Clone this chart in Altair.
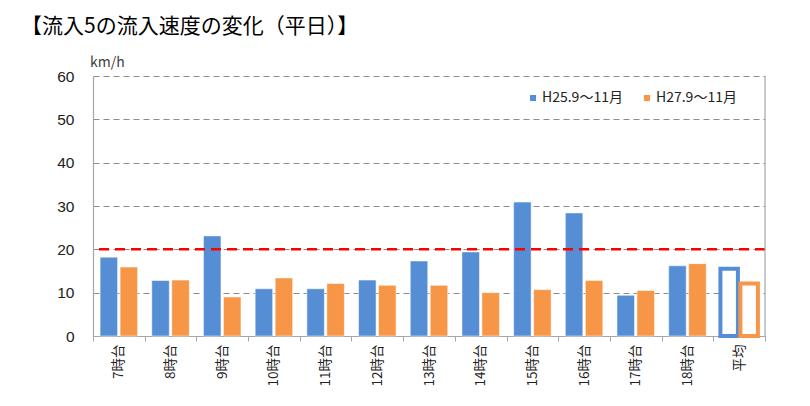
import altair as alt
import pandas as pd

hours = ["7時台", "8時台", "9時台", "10時台", "11時台", "12時台", "13時台",
         "14時台", "15時台", "16時台", "17時台", "18時台", "平均"]
series = ["H25.9～11月", "H27.9～11月"]
h25 = [18.2, 12.8, 23.1, 10.9, 10.9, 12.9, 17.3, 19.4, 30.9, 28.4, 9.4, 16.2, 15.5]
h27 = [15.9, 12.9, 9.0, 13.4, 12.1, 11.7, 11.7, 10.0, 10.7, 12.8, 10.5, 16.7, 12.1]
y_ticks = [0, 10, 20, 30, 40, 50, 60]
target = [20]
colors = ["#558ED5", "#F79646"]
title_text = "【流入5の流入速度の変化（平日）】"
unit_text = "km/h"

rows = []
for i, h in enumerate(hours):
    rows.append({"hour": h, "series": series[0], "value": h25[i]})
    rows.append({"hour": h, "series": series[1], "value": h27[i]})
df = pd.DataFrame(rows)

W, H = 672, 260
font = "Noto Sans CJK JP"

x_enc = alt.X("hour:N", sort=hours,
              scale=alt.Scale(domain=hours, paddingInner=0, paddingOuter=0),
              axis=alt.Axis(title=None, labelAngle=-90, tickBand="extent",
                            tickSize=5, tickColor="#a6a6a6", domainColor="#a6a6a6",
                            domainWidth=1.2, labelPadding=3, labelFontSize=13.5,
                            labelFont=font, labelColor="#222222", grid=False))
xo_enc = alt.XOffset("series:N", sort=series,
                     scale=alt.Scale(domain=series, paddingInner=0.125, paddingOuter=0.355))
y_enc = alt.Y("value:Q", scale=alt.Scale(domain=[0, 60], nice=False),
              axis=alt.Axis(title=None, values=y_ticks, grid=True, gridDash=[6, 4],
                            gridColor="#8c8c8c", gridWidth=1.2, tickSize=0,
                            domainColor="#a6a6a6", domainWidth=1.2, labelPadding=19,
                            labelFontSize=15.5, labelFont="Liberation Sans",
                            labelColor="#222222"))

base = alt.Chart(df)

bars = base.transform_filter(alt.datum.hour != "平均").mark_bar(
    stroke="white", strokeWidth=1, strokeOpacity=0.5
).encode(
    x=x_enc, xOffset=xo_enc, y=y_enc,
    fill=alt.Fill("series:N", sort=series,
                  scale=alt.Scale(domain=series, range=colors),
                  legend=alt.Legend(title=None, orient="none", legendX=433, legendY=15,
                                    direction="horizontal", symbolType="square",
                                    symbolSize=36, symbolStrokeWidth=0,
                                    labelFontSize=14, labelFont=font,
                                    labelColor="#222222", columnPadding=17,
                                    padding=0, labelOffset=2))
)

avg = base.transform_filter(alt.datum.hour == "平均").mark_bar(
    fill="white", strokeWidth=4
).encode(
    x=x_enc, xOffset=xo_enc, y=y_enc,
    stroke=alt.Stroke("series:N", sort=series,
                      scale=alt.Scale(domain=series, range=colors), legend=None)
)

rule = alt.Chart(pd.DataFrame({"v": target})).mark_rule(
    color="#FF0000", strokeDash=[10, 6], strokeWidth=2.5
).encode(y=alt.Y("v:Q"))

right_border = alt.Chart(pd.DataFrame({"a": [0]})).mark_rule(
    color="#a6a6a6", strokeWidth=1.2
).encode(x=alt.value(W), y=alt.value(0), y2=alt.value(H))

title = alt.Chart(pd.DataFrame({"t": [title_text]})).mark_text(
    align="left", baseline="alphabetic", fontSize=21, font=font, fontWeight="normal",
    color="#000000"
).encode(x=alt.value(-72), y=alt.value(-43), text="t:N")

unit = alt.Chart(pd.DataFrame({"t": [unit_text]})).mark_text(
    align="left", baseline="alphabetic", fontSize=14, font=font,
    color="#404040"
).encode(x=alt.value(-3), y=alt.value(-9), text="t:N")

chart = alt.layer(bars, avg, rule, right_border, title, unit).resolve_scale(
    fill="independent", stroke="independent"
).properties(
    width=W, height=H,
    autosize=alt.AutoSizeParams(type="none"),
    padding={"left": 85, "top": 68, "right": 36, "bottom": 52}
).configure_view(stroke=None)

chart.save("out.html", embed_options={"renderer": "svg", "actions": False})
